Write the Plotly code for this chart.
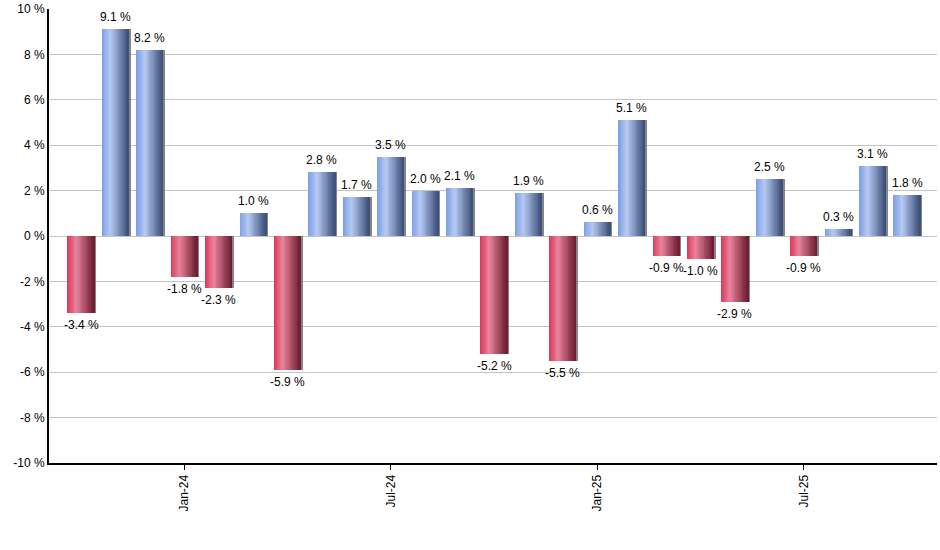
import plotly.graph_objects as go

months = ["Oct-23", "Nov-23", "Dec-23", "Jan-24", "Feb-24", "Mar-24", "Apr-24", "May-24",
          "Jun-24", "Jul-24", "Aug-24", "Sep-24", "Oct-24", "Nov-24", "Dec-24", "Jan-25",
          "Feb-25", "Mar-25", "Apr-25", "May-25", "Jun-25", "Jul-25", "Aug-25", "Sep-25", "Oct-25"]
returns = [-3.4, 9.1, 8.2, -1.8, -2.3, 1.0, -5.9, 2.8, 1.7, 3.5, 2.0, 2.1, -5.2, 1.9, -5.5,
           0.6, 5.1, -0.9, -1.0, -2.9, 2.5, -0.9, 0.3, 3.1, 1.8]
y_ticks = [-10, -8, -6, -4, -2, 0, 2, 4, 6, 8, 10]

x = list(range(len(months)))
tick_idx = [i for i, m in enumerate(months) if m.startswith("Jan") or m.startswith("Jul")]
tick_txt = [months[i] for i in tick_idx]

FONT = "Liberation Sans, Arial, sans-serif"

# gradient stops (position, rgb)
blue_stops = [(0.0, (122, 158, 230)), (0.33, (182, 202, 243)), (1.0, (58, 78, 120))]
red_stops = [(0.0, (218, 56, 90)), (0.33, (232, 132, 156)), (1.0, (108, 28, 48))]


def interp(stops, t):
    for (p0, c0), (p1, c1) in zip(stops[:-1], stops[1:]):
        if p0 <= t <= p1:
            f = (t - p0) / (p1 - p0)
            return "rgb(%d,%d,%d)" % tuple(round(a + (b - a) * f) for a, b in zip(c0, c1))
    return "rgb(%d,%d,%d)" % stops[-1][1]


fig = go.Figure()

W = 0.76
N = 30
sw = W / N
# shadow
fig.add_trace(go.Bar(x=x, y=returns, width=W, offset=-W / 2 + 0.06,
                     marker=dict(color="rgba(120,120,120,0.9)", line=dict(width=0)),
                     hoverinfo="skip", showlegend=False))
for i in range(N):
    t = (i + 0.5) / N
    cols = [interp(blue_stops if v >= 0 else red_stops, t) for v in returns]
    fig.add_trace(go.Bar(x=x, y=returns, width=sw * (1.6 if i < N - 1 else 1.0),
                         offset=-W / 2 + i * sw,
                         marker=dict(color=cols, line=dict(width=0)),
                         hoverinfo="skip", showlegend=False))

for xi, v in zip(x, returns):
    fig.add_annotation(x=xi, y=v, text="%.1f %%" % v, showarrow=False,
                       yanchor="bottom" if v >= 0 else "top",
                       yshift=3 if v >= 0 else -3,
                       font=dict(family=FONT, size=12, color="#000000"))

fig.update_layout(
    width=940, height=550,
    margin=dict(l=49, r=3, t=9, b=87, autoexpand=False),
    barmode="overlay", bargap=0,
    plot_bgcolor="white", paper_bgcolor="white",
    font=dict(family=FONT, size=12, color="#000000"),
    showlegend=False,
)
fig.update_xaxes(range=[-0.93, 24.87], tickmode="array", tickvals=tick_idx, ticktext=tick_txt,
                 tickangle=-90, ticks="outside", ticklen=5, tickcolor="black",
                 showline=True, linecolor="black", linewidth=2, showgrid=False, zeroline=False,
                 tickfont=dict(family=FONT, size=12), automargin=False)
fig.update_yaxes(range=[-10, 10], tickmode="array", tickvals=y_ticks,
                 ticktext=["%d %%" % v for v in y_ticks],
                 showline=True, linecolor="black", linewidth=2, showgrid=True,
                 gridcolor="#c4c4c4", gridwidth=1, zeroline=True, zerolinecolor="#c4c4c4",
                 zerolinewidth=1, ticks="", tickfont=dict(family=FONT, size=12), automargin=False)

fig.write_html("out.html", config={"displayModeBar": False})

with open("out.html", "r", encoding="utf-8") as f:
    html = f.read()
html = html.replace("<head>", "<head><style>html,body{margin:0;padding:0;overflow:hidden;}</style>", 1)
with open("out.html", "w", encoding="utf-8") as f:
    f.write(html)
